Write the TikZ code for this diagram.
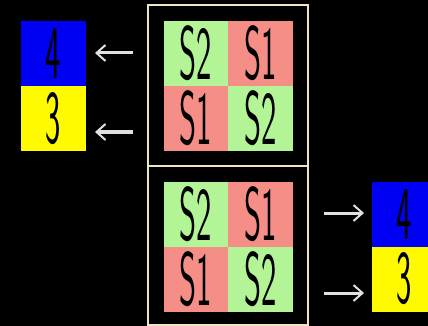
\documentclass[tikz,border=0pt]{standalone}
\usepackage{graphicx}
\usetikzlibrary{arrows.meta}

\definecolor{sgreen}{RGB}{178,244,150}
\definecolor{sred}{RGB}{246,142,136}
\definecolor{nblue}{RGB}{0,0,242}
\definecolor{nyellow}{RGB}{255,250,0}
\definecolor{cream}{RGB}{240,228,196}

\newcommand{\tall}[1]{\scalebox{1.05}[2.45]{\fontsize{31}{31}\selectfont\sffamily #1}}

\tikzset{
  cell/.style={minimum width=65pt, minimum height=65pt, inner sep=0pt, outer sep=0pt, text=black},
  stwo/.style={cell, fill=sgreen},
  sone/.style={cell, fill=sred},
  four/.style={cell, fill=nblue},
  three/.style={cell, fill=nyellow},
  pointer/.style={draw=white!88!black, line width=3pt, -{Straight Barb[length=9pt,width=16pt,line width=2pt]}}
}

\begin{document}
\begin{tikzpicture}[x=1pt, y=-1pt]

    \fill[black] (0,0) rectangle (428,326);
    \useasboundingbox (0,0) rectangle (428,326);

    % frames
    \draw[cream, line width=2pt] (148,5) rectangle (308,166);
    \draw[cream, line width=2pt] (148,166) rectangle (308,325);

    % upper grid
    \node[stwo] (a) at (196,53.5) {\tall{S2}};
    \node[sone] (b) at (260.5,53.5) {\tall{S1}};
    \node[sone] (c) at (196,118.5) {\tall{S1}};
    \node[stwo] (d) at (260.5,118.5) {\tall{S2}};

    % lower grid
    \node[stwo] (e) at (196,214.5) {\tall{S2}};
    \node[sone] (f) at (260.5,214.5) {\tall{S1}};
    \node[sone] (g) at (196,279.5) {\tall{S1}};
    \node[stwo] (h) at (260.5,279.5) {\tall{S2}};

    % left result
    \node[four] (i) at (53.5,54) {\tall{4}};
    \node[three] (j) at (53.5,118.5) {\tall{3}};

    % right result
    \node[four] (k) at (404.5,214.5) {\tall{4}};
    \node[three] (l) at (404.5,279) {\tall{3}};

    \coordinate (m) at (133,53);
    \coordinate (n) at (95,53);
    \coordinate (o) at (133,132);
    \coordinate (p) at (95,132);
    \coordinate (q) at (324,213);
    \coordinate (r) at (364,213);
    \coordinate (s) at (324,293);
    \coordinate (t) at (364,293);

    \draw [pointer] (m) -- (n);
    \draw [pointer] (o) -- (p);
    \draw [pointer] (q) -- (r);
    \draw [pointer] (s) -- (t);

\end{tikzpicture}
\end{document}
